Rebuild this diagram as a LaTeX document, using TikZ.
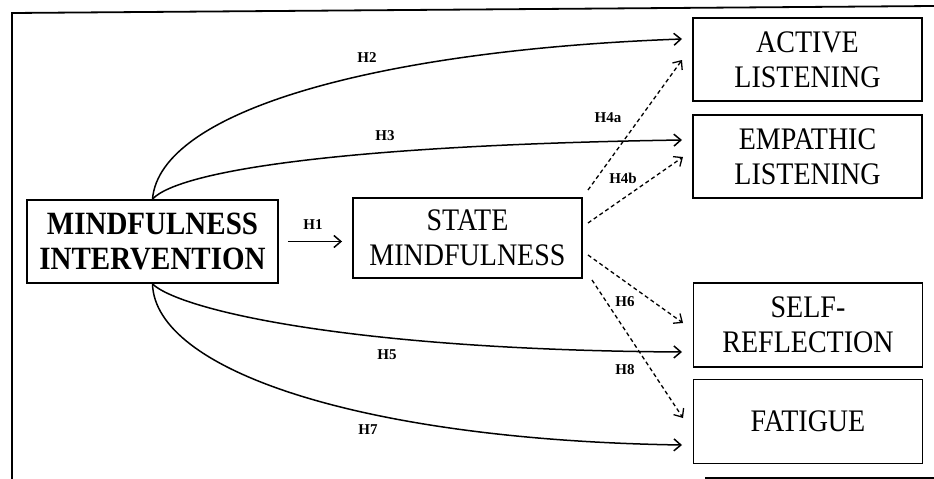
\documentclass[tikz,border=0pt]{standalone}
\usepackage{fontspec}
\usepackage{graphicx}
\setmainfont{Liberation Serif}
\usetikzlibrary{arrows.meta}
\newcommand\tallx[1]{\scalebox{1}[1.12]{#1}}
\begin{document}
\begin{tikzpicture}[x=1pt,y=-1pt,
  box/.style={draw, line width=1.9pt, inner sep=0pt, minimum width=229pt,
    minimum height=83pt, align=center, font=\fontsize{28}{35}\selectfont},
  lab/.style={font=\bfseries\fontsize{15}{15}\selectfont, inner sep=0pt},
  arr/.style={line width=1.5pt, -{Straight Barb[length=7pt,width=12pt]}},
  darr/.style={arr, line width=1.3pt, dash pattern=on 4pt off 3pt},
  frame/.style={line width=1.8pt}]
\useasboundingbox (0,0) rectangle (934,479);
% frame fragments
\draw[frame] (12,479) -- (12,13) -- (934,6);
\draw[frame] (705,478) -- (934,478);
% nodes
\node[box, font=\bfseries\fontsize{29}{35}\selectfont, minimum width=251pt] (mi) at (152.5,241.5) {\tallx{MINDFULNESS}\\\tallx{INTERVENTION}};
\node[box, minimum height=80pt] (sm) at (467.5,238) {\tallx{STATE}\\\tallx{MINDFULNESS}};
\node[box] (al) at (807.5,59.5) {\tallx{ACTIVE}\\\tallx{LISTENING}};
\node[box] (el) at (807.5,156.5) {\tallx{EMPATHIC}\\\tallx{LISTENING}};
\node[box, minimum height=84pt] (sr) at (808,325) {\tallx{SELF-}\\\tallx{REFLECTION}};
\node[box, minimum height=84pt] (fa) at (808,421.5) {\tallx{FATIGUE}};
% arrow end points
\coordinate (t2) at (682,39);
\coordinate (t3) at (682,140);
\coordinate (t5) at (682,352);
\coordinate (t7) at (682,445);
\coordinate (s4a) at (588,190);
\coordinate (t4a) at (682,60);
\coordinate (s4b) at (588,223);
\coordinate (t4b) at (683,157);
\coordinate (s6) at (588,255);
\coordinate (t6) at (683,323);
\coordinate (s8) at (592,280);
\coordinate (t8) at (683,418);
% solid connectors
\draw[arr, shorten <=9pt, shorten >=10pt] (mi.east) -- (mi.east -| sm.west);
\draw[arr] (mi.north) .. controls (160,110) and (380,50) .. (t2);
\draw[arr] (mi.north) .. controls (180,170) and (350,145) .. (t3);
\draw[arr] (mi.south) .. controls (180,310) and (350,350) .. (t5);
\draw[arr] (mi.south) .. controls (155,370) and (360,440) .. (t7);
% dashed connectors
\draw[darr] (s4a) -- (t4a);
\draw[darr] (s4b) -- (t4b);
\draw[darr] (s6) -- (t6);
\draw[darr] (s8) -- (t8);
% labels
\node[lab] (h1) at (313,225) {H1};
\node[lab] (h2) at (367,58) {H2};
\node[lab] (h3) at (385,136) {H3};
\node[lab] (h4a) at (608,118) {H4a};
\node[lab] (h4b) at (623,178) {H4b};
\node[lab] (h5) at (387,355) {H5};
\node[lab] (h6) at (625,302) {H6};
\node[lab] (h7) at (368,430) {H7};
\node[lab] (h8) at (625,370) {H8};
\end{tikzpicture}
\end{document}
